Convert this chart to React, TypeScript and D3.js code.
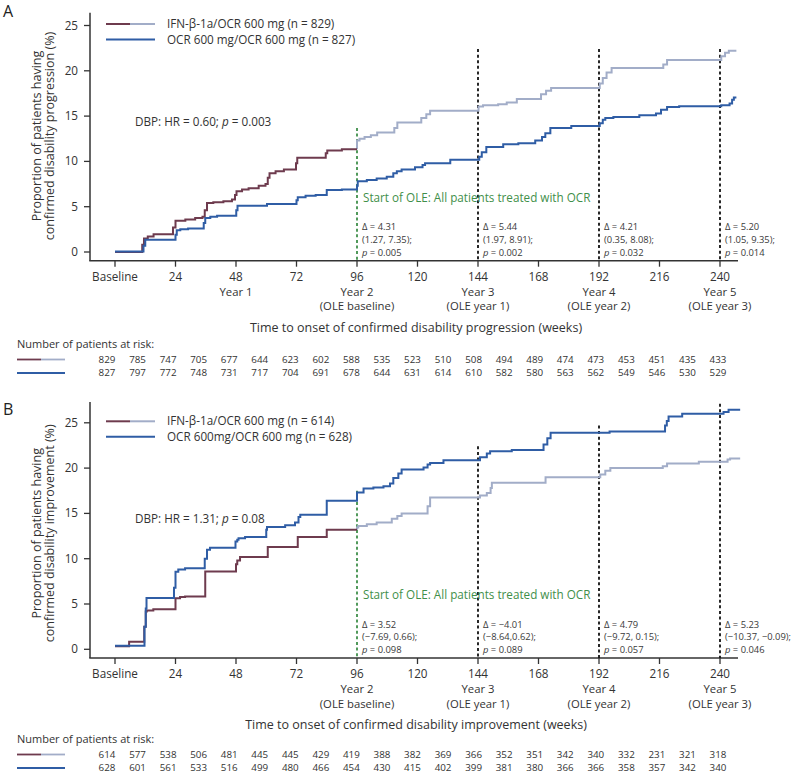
import React from 'react';
import * as d3 from 'd3';

const W = 794;
const H = 774;
const FONT = "'Open Sans', 'Noto Sans', sans-serif";

const COL_MAROON = '#6e3b4e';
const COL_LIGHT = '#a2adc8';
const COL_BLUE = '#2f5da5';
const COL_GREEN = '#3f8f4a';
const COL_TEXT = '#333333';

const xTickWeeks = [0, 24, 48, 72, 96, 120, 144, 168, 192, 216, 240];
const xTickLabels = ['Baseline', '24', '48', '72', '96', '120', '144', '168', '192', '216', '240'];
const yTicks = [0, 5, 10, 15, 20, 25];
const yearWeeksA = [48, 96, 144, 192, 240];
const yearNamesA = ['Year 1', 'Year 2', 'Year 3', 'Year 4', 'Year 5'];
const yearWeeksB = [96, 144, 192, 240];
const yearNamesB = ['Year 2', 'Year 3', 'Year 4', 'Year 5'];
const oleWeeks = [96, 144, 192, 240];
const oleNames = ['(OLE baseline)', '(OLE year 1)', '(OLE year 2)', '(OLE year 3)'];
const dashWeeks = [144, 192, 240];

// Panel A: confirmed disability progression (step points: [week, %])
const ifnA: [number, number][] = [
  [0, 0], [10.8, 0.8], [11.5, 1.5], [13, 1.7], [15.3, 1.95], [23, 2.7], [24, 3.45], [27.9, 3.6],
  [31.8, 3.75], [34.7, 3.9], [35.6, 4.6], [36.5, 5.4], [39, 5.5], [43, 5.6], [46.4, 5.8], [47.6, 6.3],
  [48.2, 6.7], [50.4, 6.9], [53, 7.05], [57, 7.3], [59.7, 7.5], [60.6, 8.2], [61.3, 8.7], [63.7, 8.9],
  [67, 9.1], [71.8, 9.8], [72.3, 10.4], [83.6, 10.9], [84.2, 11.2], [90, 11.35],
  [96, 12.3], [97, 12.5], [99, 12.7], [101.5, 12.9], [104, 13.2], [110.8, 13.7], [112, 14.3],
  [121.5, 14.8], [123.5, 15.2], [125, 15.6], [144.2, 16.05], [146, 16.2], [152, 16.3], [155.4, 16.5],
  [159.4, 16.9], [169, 17.4], [171, 17.8], [173, 18.1], [192.3, 18.6], [193.5, 19.2], [195, 19.8],
  [197, 20.3], [217.5, 20.7], [219, 21.2], [240.5, 21.6], [242, 22.0], [243.5, 22.2], [246.5, 22.2],
];
const ocrA: [number, number][] = [
  [0, 0.05], [11.3, 0.7], [12, 1.35], [24, 1.9], [24.5, 2.4], [25.9, 2.5], [29, 2.6], [35.2, 3.2],
  [35.8, 3.75], [37.8, 3.9], [40.5, 4.0], [48.1, 4.6], [48.6, 5.1], [60.3, 5.3], [72, 5.7], [72.5, 6.05],
  [75.6, 6.2], [79.6, 6.3], [84, 6.85], [90, 6.9], [96, 7.3], [96.3, 7.8], [99.9, 7.95], [103.8, 8.1],
  [107.8, 8.3], [110.4, 8.7], [111.8, 8.9], [113.7, 9.1], [119, 9.35], [122, 9.6], [123, 9.8],
  [133, 10.17], [144.5, 10.5], [145.5, 11.0], [147.3, 11.6], [154, 11.9], [160, 12.0], [166.7, 12.3],
  [169.4, 12.7], [170.7, 13.1], [172.7, 13.7], [181, 13.9], [192.3, 14.2], [193.5, 14.6], [194.5, 14.8],
  [197.7, 14.9], [208, 15.1], [214.6, 15.3], [216.6, 15.7], [219, 16.0], [223.8, 16.1], [240.5, 16.2],
  [243.8, 16.4], [244.8, 16.8], [245.5, 17.05], [246.5, 17.05],
];

// Panel B: confirmed disability improvement
const ifnB: [number, number][] = [
  [0, 0.33], [5.6, 0.82], [11.6, 2.5], [12.2, 4.16], [12.6, 4.27], [15.2, 4.42], [24, 5.64], [25.8, 5.76],
  [27.8, 5.83], [35.8, 8.6], [48, 9.4], [48.5, 9.8], [49.6, 10.2], [60.6, 11.3], [72.5, 12.4], [84, 13.2],
  [96, 13.45], [96.5, 13.6], [99.9, 13.8], [103.8, 14.0], [109.8, 14.4], [112, 14.7], [113.7, 15.0],
  [124, 15.8], [125, 16.76], [144.8, 16.97], [147.5, 17.26], [149, 17.8], [149.5, 18.37], [170.8, 19.0],
  [192.5, 19.3], [194.5, 19.7], [196.5, 20.0], [217.3, 20.2], [219, 20.5], [231.6, 20.7], [243, 20.95],
  [244, 21.05], [248, 21.05],
];
const ocrB: [number, number][] = [
  [0, 0.4], [11.7, 2.5], [12.2, 4.5], [12.5, 5.65], [23.4, 6.8], [24, 8.55], [25.1, 8.8], [27.8, 8.95],
  [35.6, 10.0], [36.5, 11.0], [37.7, 11.2], [47.8, 11.9], [48.5, 12.1], [49, 12.25], [51.6, 12.4],
  [60, 13.2], [60.3, 13.5], [67.5, 13.7], [71.4, 14.0], [72.8, 14.6], [73.5, 14.85], [84, 16.4],
  [96, 17.3], [98.6, 17.75], [102.5, 17.85], [106.5, 18.0], [109.1, 18.3], [110.4, 18.9], [112.4, 19.4],
  [113.7, 19.85], [122.4, 20.06], [124, 20.4], [125, 20.57], [130.3, 20.87], [144.8, 21.2], [147.5, 21.6],
  [148.8, 21.85], [157.4, 22.0], [170, 22.6], [171.5, 23.3], [172.8, 23.9], [196.2, 24.05], [218.2, 24.7],
  [218.9, 25.2], [219.6, 25.7], [225, 26.0], [241.4, 26.2], [243.4, 26.45], [248, 26.45],
];

const riskIfnA = [829, 785, 747, 705, 677, 644, 623, 602, 588, 535, 523, 510, 508, 494, 489, 474, 473, 453, 451, 435, 433];
const riskOcrA = [827, 797, 772, 748, 731, 717, 704, 691, 678, 644, 631, 614, 610, 582, 580, 563, 562, 549, 546, 530, 529];
const riskIfnB = [614, 577, 538, 506, 481, 445, 445, 429, 419, 388, 382, 369, 366, 352, 351, 342, 340, 332, 231, 321, 318];
const riskOcrB = [628, 601, 561, 533, 516, 499, 480, 466, 454, 430, 415, 402, 399, 381, 380, 366, 366, 358, 357, 342, 340];

const deltaA = [
  { w: 96, d: 'Δ = 4.31', ci: '(1.27, 7.35);', p: '0.005' },
  { w: 144, d: 'Δ = 5.44', ci: '(1.97, 8.91);', p: '0.002' },
  { w: 192, d: 'Δ = 4.21', ci: '(0.35, 8.08);', p: '0.032' },
  { w: 240, d: 'Δ = 5.20', ci: '(1.05, 9.35);', p: '0.014' },
];
const deltaB = [
  { w: 96, d: 'Δ = 3.52', ci: '(−7.69, 0.66);', p: '0.098' },
  { w: 144, d: 'Δ = −4.01', ci: '(−8.64,0.62);', p: '0.089' },
  { w: 192, d: 'Δ = 4.79', ci: '(−9.72, 0.15);', p: '0.057' },
  { w: 240, d: 'Δ = 5.23', ci: '(−10.37, −0.09);', p: '0.046' },
];

type PanelProps = {
  off: number;
  riskOff: number;
  label: string;
  ifn: [number, number][];
  ocr: [number, number][];
  legIfn: string;
  legOcr: string;
  hr: string;
  hrP: string;
  deltas: { w: number; d: string; ci: string; p: string }[];
  dashTops: number[];
  greenTop: number;
  axisTop: number;
  xTitle: string;
  yTitle2: string;
  riskIfn: number[];
  riskOcr: number[];
  yearWeeks: number[];
  yearNames: string[];
};

function Panel(props: PanelProps) {
  const { off } = props;
  const roff = off + props.riskOff;
  const x = d3.scaleLinear().domain([0, 240]).range([115, 720]);
  const y = d3.scaleLinear().domain([0, 25]).range([252 + off, 25.5 + off]);
  const riskX = d3.scalePoint<number>().domain(d3.range(21)).range([107, 718]);
  const line = d3
    .line<[number, number]>()
    .x((d) => x(d[0]))
    .y((d) => y(d[1]))
    .curve(d3.curveStepAfter);
  const before = props.ifn.filter((d) => d[0] < 96);
  const lastV = before[before.length - 1][1];
  const maroon: [number, number][] = [...before, [96, lastV]];
  const light: [number, number][] = [[96, lastV], ...props.ifn.filter((d) => d[0] >= 96)];
  const axisY = 260.7 + off;
  const fs = 11.7;

  return (
    <g fontFamily={FONT} fill={COL_TEXT}>
      <text x={3} y={17.2 + off} fontSize={16} fill="#222">{props.label}</text>
      {/* y title */}
      <g transform={`translate(37,${136 + off}) rotate(-90)`}>
        <text textAnchor="middle" dy="0.35em" fontSize={12.5}>Proportion of patients having</text>
      </g>
      <g transform={`translate(49.5,${136 + off}) rotate(-90)`}>
        <text textAnchor="middle" dy="0.35em" fontSize={12.5}>{props.yTitle2}</text>
      </g>
      {/* axes */}
      <line x1={90} x2={90} y1={y(props.axisTop)} y2={axisY} stroke="#333" strokeWidth={1.5} />
      <line x1={89.25} x2={738} y1={axisY} y2={axisY} stroke="#333" strokeWidth={1.5} />
      {yTicks.map((t) => (
        <g key={'yt' + t}>
          <line x1={84} x2={90} y1={y(t)} y2={y(t)} stroke="#333" strokeWidth={1.3} />
          <text x={78} y={y(t)} dy="0.35em" textAnchor="end" fontSize={fs}>{t}</text>
        </g>
      ))}
      {xTickWeeks.map((t, i) => (
        <g key={'xt' + t}>
          <line x1={x(t)} x2={x(t)} y1={axisY} y2={axisY + 6} stroke="#333" strokeWidth={1.3} />
          <text x={x(t)} y={277 + off} dy="0.35em" textAnchor="middle" fontSize={fs}>{xTickLabels[i]}</text>
        </g>
      ))}
      {props.yearWeeks.map((t, i) => (
        <text key={'yr' + t} x={x(t)} y={292 + off} dy="0.35em" textAnchor="middle" fontSize={11.3}>{props.yearNames[i]}</text>
      ))}
      {oleWeeks.map((t, i) => (
        <text key={'ole' + t} x={x(t)} y={306.5 + off} dy="0.35em" textAnchor="middle" fontSize={11.3}>{oleNames[i]}</text>
      ))}
      <text x={416} y={327.5 + off} dy="0.35em" textAnchor="middle" fontSize={12.5}>{props.xTitle}</text>

      {/* vertical reference lines */}
      <line x1={x(96)} x2={x(96)} y1={y(props.greenTop)} y2={axisY} stroke={COL_GREEN} strokeWidth={1.8} strokeDasharray="3,2.6" />
      {dashWeeks.map((w, i) => (
        <line key={'dl' + w} x1={x(w)} x2={x(w)} y1={y(props.dashTops[i])} y2={axisY} stroke="#111" strokeWidth={1.8} strokeDasharray="3,2.6" />
      ))}

      {/* curves */}
      <path d={line(light) || ''} fill="none" stroke={COL_LIGHT} strokeWidth={2} />
      <path d={line(maroon) || ''} fill="none" stroke={COL_MAROON} strokeWidth={2} />
      <path d={line(props.ocr) || ''} fill="none" stroke={COL_BLUE} strokeWidth={2} />

      {/* legend */}
      <line x1={106} x2={130} y1={24 + off} y2={24 + off} stroke={COL_MAROON} strokeWidth={2} />
      <line x1={130} x2={155} y1={24 + off} y2={24 + off} stroke={COL_LIGHT} strokeWidth={2} />
      <line x1={106} x2={155} y1={39.5 + off} y2={39.5 + off} stroke={COL_BLUE} strokeWidth={2} />
      <text x={167} y={24 + off} dy="0.35em" fontSize={fs}>{props.legIfn}</text>
      <text x={167} y={39.5 + off} dy="0.35em" fontSize={fs}>{props.legOcr}</text>

      <text x={135} y={121.7 + off} dy="0.35em" fontSize={fs}>
        {props.hr}<tspan fontStyle="italic">p</tspan>{' = ' + props.hrP}
      </text>
      <text x={x(96) + 6} y={198 + off} dy="0.35em" fontSize={fs} fill={COL_GREEN}>
        Start of OLE: All patients treated with OCR
      </text>
      {props.deltas.map((d) => (
        <g key={'dt' + d.w} fontSize={9.4} fill="#3a3a3a">
          <text x={x(d.w) + 5} y={227 + off} dy="0.35em">{d.d}</text>
          <text x={x(d.w) + 5} y={239.8 + off} dy="0.35em">{d.ci}</text>
          <text x={x(d.w) + 5} y={252.6 + off} dy="0.35em">
            <tspan fontStyle="italic">p</tspan>{' = ' + d.p}
          </text>
        </g>
      ))}

      {/* risk table */}
      <text x={17} y={344.5 + roff} dy="0.35em" fontSize={11}>Number of patients at risk:</text>
      <line x1={17} x2={41} y1={359.5 + roff} y2={359.5 + roff} stroke={COL_MAROON} strokeWidth={1.8} />
      <line x1={41} x2={65} y1={359.5 + roff} y2={359.5 + roff} stroke={COL_LIGHT} strokeWidth={1.8} />
      <line x1={17} x2={65} y1={373 + roff} y2={373 + roff} stroke={COL_BLUE} strokeWidth={1.8} />
      {props.riskIfn.map((v, i) => (
        <text key={'ri' + i} x={riskX(i)} y={359.5 + roff} dy="0.35em" textAnchor="middle" fontSize={9.8}>{v}</text>
      ))}
      {props.riskOcr.map((v, i) => (
        <text key={'ro' + i} x={riskX(i)} y={373 + roff} dy="0.35em" textAnchor="middle" fontSize={9.8}>{v}</text>
      ))}
    </g>
  );
}

export default function App() {
  return (
    <svg width={W} height={H} viewBox={`0 0 ${W} ${H}`} style={{ display: 'block', position: 'absolute', left: 0, top: 0, background: '#fff' }}>
      <rect x={0} y={0} width={W} height={H} fill="#fff" />
      <Panel
        off={0}
        riskOff={0}
        label="A"
        ifn={ifnA}
        ocr={ocrA}
        legIfn="IFN-β-1a/OCR 600 mg (n = 829)"
        legOcr="OCR 600 mg/OCR 600 mg (n = 827)"
        hr="DBP: HR = 0.60; "
        hrP="0.003"
        deltas={deltaA}
        dashTops={[22.4, 22.4, 22.4]}
        greenTop={13.7}
        axisTop={26.4}
        xTitle="Time to onset of confirmed disability progression (weeks)"
        yTitle2="confirmed disability progression (%)"
        riskIfn={riskIfnA}
        riskOcr={riskOcrA}
        yearWeeks={yearWeeksA}
        yearNames={yearNamesA}
      />
      <Panel
        off={397.3}
        riskOff={-2.3}
        label="B"
        ifn={ifnB}
        ocr={ocrB}
        legIfn="IFN-β-1a/OCR 600 mg (n = 614)"
        legOcr="OCR 600mg/OCR 600 mg (n = 628)"
        hr="DBP: HR = 1.31; "
        hrP="0.08"
        deltas={deltaB}
        dashTops={[22.4, 24.7, 27.1]}
        greenTop={17.5}
        axisTop={27.3}
        xTitle="Time to onset of confirmed disability improvement (weeks)"
        yTitle2="confirmed disability improvement (%)"
        riskIfn={riskIfnB}
        riskOcr={riskOcrB}
        yearWeeks={yearWeeksB}
        yearNames={yearNamesB}
      />
    </svg>
  );
}
